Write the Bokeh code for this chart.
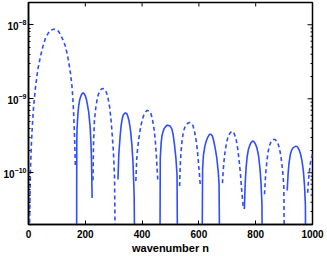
import numpy as np
from bokeh.plotting import figure
from bokeh.models import ColumnDataSource
from bokeh.embed import file_html
from bokeh.resources import INLINE

# x tick values
x_ticks = [0, 200, 400, 600, 800, 1000]
# y (log) tick values for the right-hand frame ticks
y_major = [1e-10, 1e-9, 1e-8]
y_minor = [3e-11, 4e-11, 5e-11, 6e-11, 7e-11, 8e-11, 9e-11,
           2e-10, 3e-10, 4e-10, 5e-10, 6e-10, 7e-10, 8e-10, 9e-10,
           2e-9, 3e-9, 4e-9, 5e-9, 6e-9, 7e-9, 8e-9, 9e-9]

# Arches drawn solid (positive part), wavenumber n and log10(amplitude)
solid_n = [
    [169, 170, 171, 174, 177, 180, 183, 187, 192, 196, 200, 204, 207, 212, 217, 220, 222, 224],
    [315, 318, 323, 326, 329, 332, 335, 341, 346, 350, 354, 359, 364, 368, 372, 376],
    [462, 464, 467, 470, 474, 478, 482, 487, 493, 499, 505, 510, 514, 519, 523, 526],
    [610, 613, 616, 621, 626, 630, 634, 638, 642, 647, 651, 657, 663, 668, 671, 675],
    [760, 763, 766, 770, 774, 779, 784, 789, 794, 799, 804, 810, 815, 819, 822, 825],
    [911, 914, 917, 922, 927, 932, 937, 942, 947, 953, 958, 963, 968, 972, 975, 977],
]
solid_log10 = [
    [-12, -9.6, -9.40, -9.20, -9.09, -9.02, -8.98, -8.94, -8.92, -8.93, -8.96, -9.01, -9.07, -9.18, -9.38, -9.60, -9.85, -10.34],
    [-10.09, -9.75, -9.49, -9.37, -9.29, -9.24, -9.21, -9.19, -9.20, -9.24, -9.30, -9.42, -9.62, -9.86, -10.3, -12],
    [-12, -9.80, -9.60, -9.50, -9.44, -9.40, -9.38, -9.36, -9.36, -9.37, -9.41, -9.50, -9.62, -9.80, -10.03, -12],
    [-12, -9.95, -9.76, -9.64, -9.57, -9.53, -9.50, -9.48, -9.48, -9.50, -9.55, -9.66, -9.80, -9.98, -10.16, -12],
    [-10.49, -10.15, -9.94, -9.78, -9.69, -9.63, -9.59, -9.57, -9.58, -9.61, -9.66, -9.77, -9.94, -10.15, -10.43, -12],
    [-10.24, -10.02, -9.88, -9.75, -9.69, -9.66, -9.65, -9.64, -9.65, -9.69, -9.75, -9.84, -9.98, -10.18, -10.43, -12],
]

# Arches drawn dashed (negative part)
dashed_n = [
    [0, 4, 7, 10, 13, 18, 25, 33, 42, 51, 60, 70, 80, 88, 93, 100, 106, 112, 121, 130, 136, 142, 148, 153, 156, 159, 162, 165],
    [227, 229, 232, 237, 242, 246, 251, 256, 261, 267, 274, 280, 286, 291, 295, 299, 303, 308],
    [378, 381, 384, 388, 394, 400, 406, 412, 416, 421, 426, 431, 436, 441, 446, 450, 455],
    [532, 534, 537, 541, 546, 550, 555, 561, 567, 573, 579, 585, 591, 595, 599, 602, 605],
    [683, 686, 689, 692, 698, 704, 710, 716, 722, 727, 731, 737, 743, 747, 751, 757],
    [831, 835, 839, 843, 848, 853, 858, 863, 868, 873, 878, 883, 889, 895, 899, 903],
    [983, 986, 989, 993, 997, 1000],
]
dashed_log10 = [
    [-12, -10.6, -9.94, -9.63, -9.40, -9.10, -8.83, -8.60, -8.43, -8.29, -8.18, -8.11, -8.07, -8.06, -8.06, -8.07, -8.09, -8.13, -8.20, -8.29, -8.39, -8.51, -8.66, -8.83, -8.98, -9.20, -9.50, -9.91],
    [-10.1, -9.60, -9.30, -9.12, -9.00, -8.94, -8.90, -8.87, -8.86, -8.87, -8.91, -8.99, -9.12, -9.30, -9.50, -9.72, -10.07, -12],
    [-10.11, -9.82, -9.68, -9.55, -9.40, -9.29, -9.22, -9.18, -9.16, -9.16, -9.17, -9.20, -9.27, -9.38, -9.54, -9.76, -10.09],
    [-10.18, -9.92, -9.72, -9.55, -9.44, -9.39, -9.35, -9.33, -9.32, -9.33, -9.36, -9.45, -9.58, -9.71, -9.89, -10.02, -10.18],
    [-10.14, -9.95, -9.82, -9.72, -9.58, -9.50, -9.46, -9.44, -9.45, -9.50, -9.55, -9.68, -9.88, -10.05, -10.25, -10.49],
    [-10.29, -10.02, -9.86, -9.73, -9.64, -9.59, -9.56, -9.55, -9.55, -9.57, -9.60, -9.66, -9.78, -9.98, -10.18, -12],
    [-10.27, -10.10, -9.98, -9.86, -9.79, -9.75],
]

BLUE = "#2f4dff"
FONT = "Liberation Sans"

p = figure(width=327, height=256, x_range=(0, 1000), y_range=(2e-11, 2e-8),
           y_axis_type="log", output_backend="svg", toolbar_location=None,
           min_border_left=27, min_border_right=15, min_border_top=2,
           min_border_bottom=29, margin=(0, 0, 0, 0))

src_s = ColumnDataSource(dict(xs=solid_n, ys=[list(10.0 ** np.array(v)) for v in solid_log10]))
src_d = ColumnDataSource(dict(xs=dashed_n, ys=[list(10.0 ** np.array(v)) for v in dashed_log10]))
p.multi_line("xs", "ys", source=src_s, line_color=BLUE, line_width=1.6)
p.multi_line("xs", "ys", source=src_d, line_color=BLUE, line_width=1.6, line_dash="4 3")

# inward ticks on the top and right edges of the frame
p.ray(x=x_ticks, y=[2e-8] * len(x_ticks), length=4, length_units="screen",
      angle=-np.pi / 2, line_color="black", line_width=1)
p.ray(x=[1000] * len(y_major), y=y_major, length=5, length_units="screen",
      angle=np.pi, line_color="black", line_width=1)
p.ray(x=[1000] * len(y_minor), y=y_minor, length=2, length_units="screen",
      angle=np.pi, line_color="black", line_width=1)

p.xgrid.visible = False
p.ygrid.visible = False
p.outline_line_color = "black"
p.outline_line_width = 1.5
p.background_fill_color = "white"
p.border_fill_color = "white"

p.xaxis.ticker = x_ticks
for ax in p.xaxis:
    ax.major_tick_in = 4
    ax.major_tick_out = 0
    ax.minor_tick_in = 0
    ax.minor_tick_out = 0
    ax.axis_line_width = 1.5
    ax.major_label_text_font = FONT
    ax.major_label_text_font_style = "bold"
    ax.major_label_text_font_size = "10px"
    ax.major_label_text_color = "black"
    ax.major_label_standoff = 5
    ax.axis_label = "wavenumber n"
    ax.axis_label_text_font = FONT
    ax.axis_label_text_font_style = "bold"
    ax.axis_label_text_font_size = "11px"
    ax.axis_label_text_color = "black"
    ax.axis_label_standoff = 1

for ax in p.yaxis:
    ax.major_tick_in = 5
    ax.major_tick_out = 0
    ax.minor_tick_in = 2
    ax.minor_tick_out = 0
    ax.axis_line_width = 1.5
    ax.major_label_text_font = FONT
    ax.major_label_text_font_style = "bold"
    ax.major_label_text_font_size = "10px"
    ax.major_label_text_color = "black"
    ax.major_label_standoff = 2

open("out.html", "w").write(file_html(p, INLINE))
